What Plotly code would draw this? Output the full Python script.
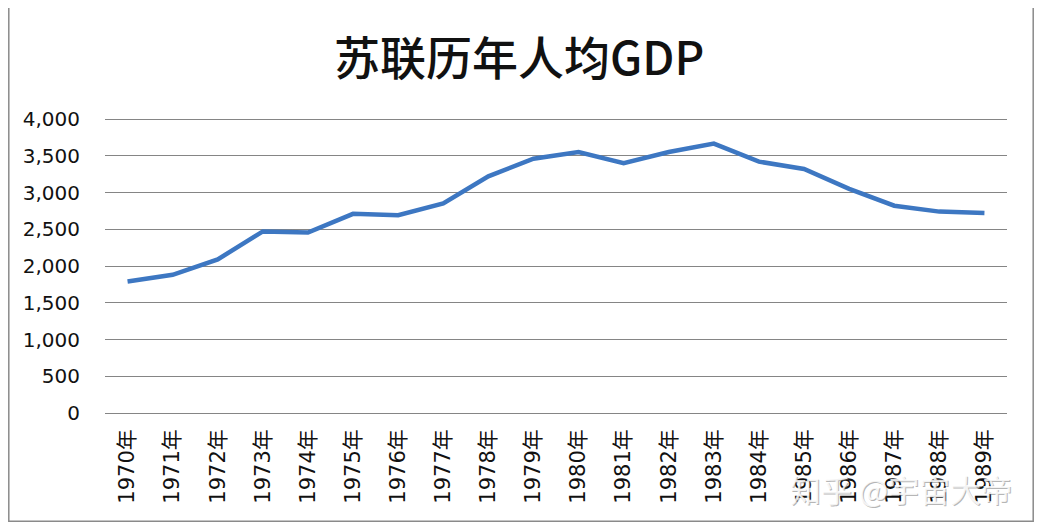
import plotly.graph_objects as go

years = [f"{y}年" for y in range(1970, 1990)]
gdp = [1790, 1880, 2090, 2470, 2455, 2710, 2690, 2850, 3220, 3460,
       3550, 3400, 3550, 3665, 3420, 3320, 3050, 2820, 2740, 2720]
y_ticks = [0, 500, 1000, 1500, 2000, 2500, 3000, 3500, 4000]
title_text = "苏联历年人均GDP"
watermark = "知乎 @宇宙大帝"

OFF = 8  # default page body margin
PAD = 8  # px of padding above 4000 and below 0 so edge gridlines are drawn
W, H = 1042 - 2 * OFF, 532 - 2 * OFF - 2
top_s, bot_s = 119 - PAD, 413 + PAD
L, R, T, B = 105 - OFF, W - (1007 - OFF), top_s - OFF, H - (bot_s - OFF)
pw, ph = W - L - R, H - T - B
unit_per_px = 4000 / (413 - 119)
ymin, ymax = -PAD * unit_per_px, 4000 + PAD * unit_per_px

def px2paper(sx, sy):
    fx, fy = sx - OFF, sy - OFF
    return (fx - L) / pw, (H - B - fy) / ph

fig = go.Figure()
fig.add_trace(go.Scatter(
    x=years, y=gdp, mode="lines",
    line=dict(color="#3d77c2", width=4.5),
    hoverinfo="x+y", showlegend=False,
))

x0, y0 = px2paper(OFF + 0.8, OFF + H - 0.8)
x1, y1 = px2paper(min(1036, OFF + W - 0.8), 0)
fig.add_shape(type="rect", xref="paper", yref="paper", x0=x0, y0=y0, x1=x1, y1=y1,
              line=dict(color="#8a8a8a", width=1.5), fillcolor="rgba(0,0,0,0)", layer="below")

wx, wy = px2paper(901, 488)
fig.add_annotation(xref="paper", yref="paper", x=wx + 1.3 / pw, y=wy - 1.3 / ph, text=watermark,
                   xanchor="center", yanchor="middle", showarrow=False,
                   font=dict(family="Noto Sans CJK SC", size=31, color="rgba(110,110,110,0.5)"))
fig.add_annotation(xref="paper", yref="paper", x=wx, y=wy, text=watermark,
                   xanchor="center", yanchor="middle", showarrow=False,
                   font=dict(family="Noto Sans CJK SC", size=31, color="rgba(255,255,255,0.85)"))

tx, ty = px2paper(519, 55)
fig.add_annotation(xref="paper", yref="paper", x=tx, y=ty, text=title_text, showarrow=False,
                   xanchor="center", yanchor="middle",
                   font=dict(family="Noto Sans CJK SC", size=46, color="#111111", weight=500))

fig.update_layout(
    width=W, height=H,
    margin=dict(l=L, r=R, t=T, b=B),
    paper_bgcolor="white", plot_bgcolor="white",
    font=dict(family="Noto Sans CJK SC, Open Sans", color="#111111"),
)
fig.update_xaxes(
    type="category", range=[-0.5, len(years) - 0.5], tickangle=-90,
    showgrid=False, zeroline=False, showline=False,
    ticks="", ticklabelstandoff=11 - PAD,
    tickfont=dict(family="DejaVu Sans, Noto Sans CJK SC", size=21, color="#111111"),
)
fig.update_yaxes(
    range=[ymin, ymax], tickvals=y_ticks, tickformat=",d",
    showgrid=True, gridcolor="#858585", gridwidth=1.3, zeroline=False, showline=False,
    ticks="", ticklabelstandoff=24,
    tickfont=dict(family="DejaVu Sans", size=20, color="#111111"),
)

fig.write_html("out.html")
